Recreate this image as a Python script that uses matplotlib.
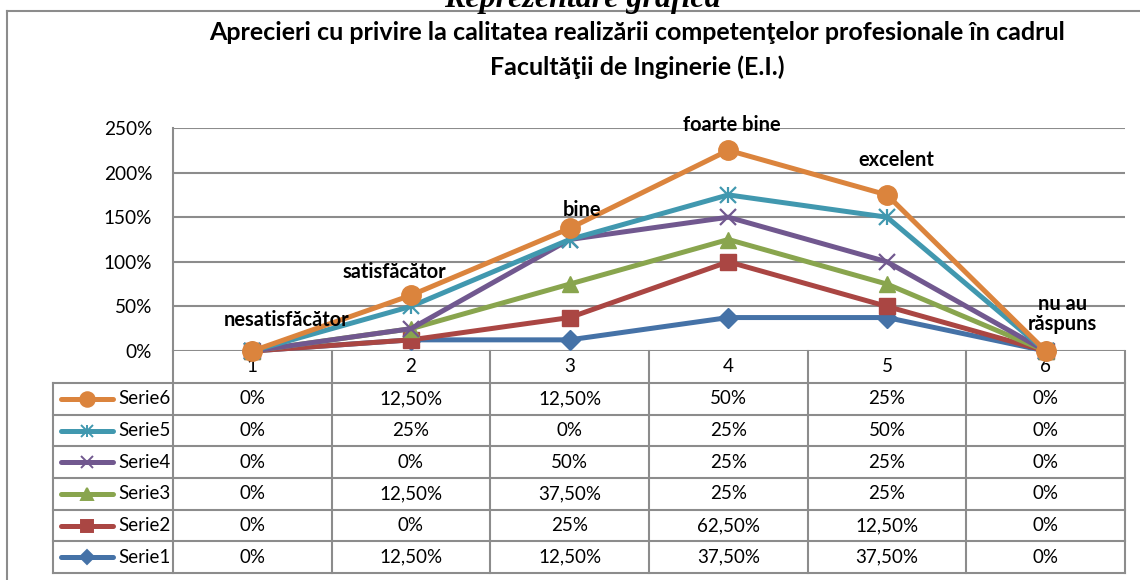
import numpy as np
import matplotlib.pyplot as plt
from matplotlib.lines import Line2D

# data (percent per category, values as shown in the data table)
categories = ['1', '2', '3', '4', '5', '6']
series_names = ['Serie1', 'Serie2', 'Serie3', 'Serie4', 'Serie5', 'Serie6']
serie1 = [0, 12.5, 12.5, 37.5, 37.5, 0]
serie2 = [0, 0, 25, 62.5, 12.5, 0]
serie3 = [0, 12.5, 37.5, 25, 25, 0]
serie4 = [0, 0, 50, 25, 25, 0]
serie5 = [0, 25, 0, 25, 50, 0]
serie6 = [0, 12.5, 12.5, 50, 25, 0]
point_labels = ['nesatisfăcător', 'satisfăcător', 'bine', 'foarte bine', 'excelent', 'nu au\nrăspuns']
yticks = [0, 50, 100, 150, 200, 250]

colors = ['#4572A7', '#AA4643', '#89A54E', '#71588F', '#4198AF', '#DB843D']
markers = ['D', 's', '^', 'x', 'x', 'o']
msizes = [10, 11, 12, 11, 11, 14]
grey = '#8C8C8C'
FONT = 'Lato'

values = np.array([serie1, serie2, serie3, serie4, serie5, serie6])
stacked = np.cumsum(values, axis=0)

W, H = 1140, 580
fig = plt.figure(figsize=(W / 100, H / 100), dpi=100)

# overlay in pixel coords for frame, titles and data table
ov = fig.add_axes([0, 0, 1, 1], zorder=0)
ov.set_xlim(0, W)
ov.set_ylim(H, 0)
ov.axis('off')

# plot area
x0, x1, ytop, ybot = 173, 1125, 128, 351
ax = fig.add_axes([x0 / W, 1 - ybot / H, (x1 - x0) / W, (ybot - ytop) / H], zorder=1)
ax.set_facecolor('none')

x = np.arange(1, 7)
for i in range(6):
    ax.plot(x, stacked[i], color=colors[i], lw=3.6, marker=markers[i],
            ms=msizes[i], mew=1.6 if markers[i] == 'x' else 1,
            mec=colors[i], clip_on=False, zorder=3 + i)
    if i == 4:
        ax.plot(x, stacked[i], ls='none', marker='|', ms=12, mew=1.6,
                color=colors[i], clip_on=False, zorder=3 + i)

ax.set_xlim(0.5, 6.5)
ax.set_ylim(0, 250)
ax.set_yticks(yticks)
ax.set_yticklabels([f'{t}%' for t in yticks], fontsize=13.7, family=FONT)
ax.tick_params(axis='y', length=0, pad=15)
ax.set_xticks([])
ax.grid(axis='y', color=grey, lw=1.5)
for s in ['top', 'right', 'bottom']:
    ax.spines[s].set_visible(False)
ax.spines['left'].set_color(grey)
ax.spines['left'].set_linewidth(1.5)

# labels above the top series
offsets = [(34, 31), (-17, 23), (12, 18), (3, 25), (9, 35), (17, 37)]
for k in range(6):
    ax.annotate(point_labels[k], (x[k], stacked[5][k]), xytext=offsets[k],
                textcoords='offset pixels', ha='center', va='center',
                fontsize=14.4, fontweight='bold', family=FONT,
                linespacing=1.05, zorder=20, annotation_clip=False)

# outer frame (top and left visible)
ov.add_line(Line2D([7, W], [11, 11], color=grey, lw=1.5))
ov.add_line(Line2D([7, 7], [11, H], color=grey, lw=1.5))

ov.text(582, 7, 'Reprezentare grafică', ha='center', va='baseline',
        fontsize=23, fontweight='bold', style='italic', family='Liberation Serif')
ov.text(637, 33, 'Aprecieri cu privire la calitatea realizării competenţelor profesionale în cadrul',
        ha='center', va='center', fontsize=18, fontweight='bold', family=FONT)
ov.text(637, 67, 'Facultăţii de Inginerie (E.I.)',
        ha='center', va='center', fontsize=18, fontweight='bold', family=FONT)

# data table
colw = (x1 - x0) / 6
col_edges = [x0 + k * colw for k in range(7)]
row_top = 383
rowh = (573 - row_top) / 6
tab_left = 53

# header row with category numbers
for e in col_edges:
    ov.add_line(Line2D([e, e], [ybot, 573], color=grey, lw=1.5))
for k, c in enumerate(categories):
    ov.text(x0 + (k + 0.5) * colw, 367, c, ha='center', va='center',
            fontsize=13.5, family=FONT)

for r in range(7):
    yy = row_top + r * rowh
    ov.add_line(Line2D([tab_left, x1], [yy, yy], color=grey, lw=1.5))
ov.add_line(Line2D([tab_left, tab_left], [row_top, 573], color=grey, lw=1.5))


def fmt(v):
    if float(v).is_integer():
        return f'{int(v)}%'
    return f'{v:.2f}%'.replace('.', ',')


for r in range(6):
    i = 5 - r
    yc = row_top + (r + 0.5) * rowh
    ov.add_line(Line2D([61, 113], [yc, yc], color=colors[i], lw=3.6,
                       solid_capstyle='round'))
    ov.plot([87], [yc], marker=markers[i], color=colors[i],
            ms=msizes[i] * 0.75, mew=1.4, mec=colors[i])
    if i == 4:
        ov.plot([87], [yc], marker='|', color=colors[i], ms=9, mew=1.4)
    ov.text(118, yc, series_names[i], ha='left', va='center',
            fontsize=13.5, family=FONT)
    for k in range(6):
        ov.text(x0 + (k + 0.5) * colw, yc, fmt(values[i][k]), ha='center',
                va='center', fontsize=13.5, family=FONT)

fig.savefig('out.png', dpi=100)
